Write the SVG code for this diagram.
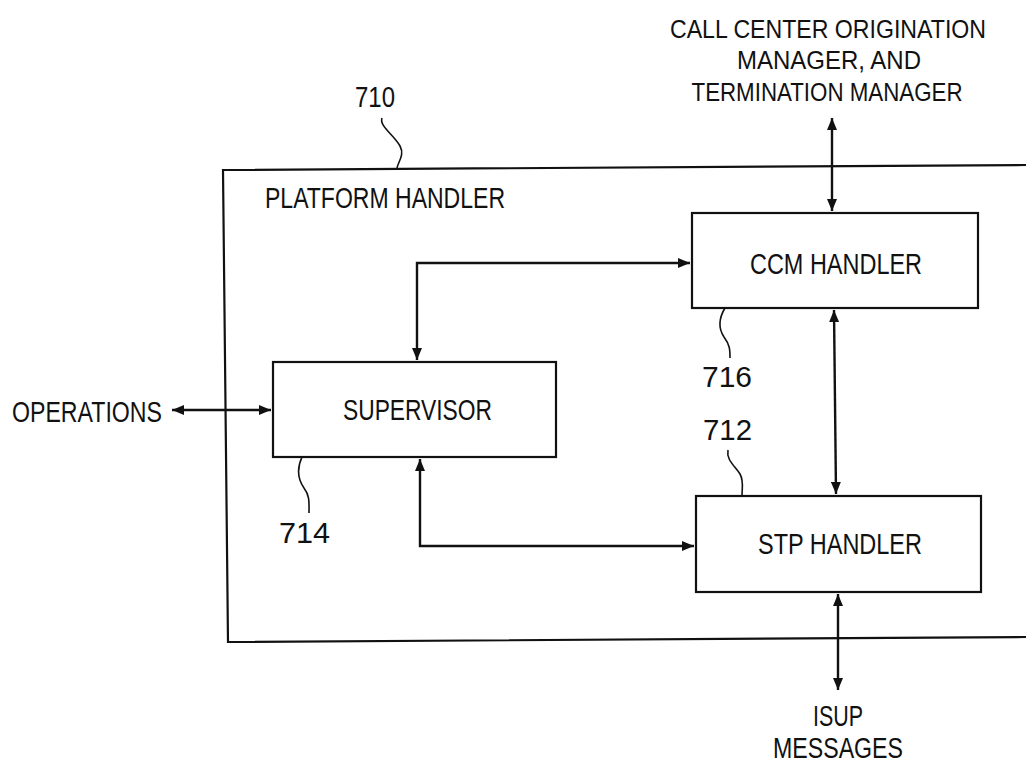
<svg xmlns="http://www.w3.org/2000/svg" width="1026" height="764" viewBox="0 0 1026 764">
<style>
text{font-family:"Liberation Sans",Arial,sans-serif;font-size:29px;fill:#111}
.box{fill:none;stroke:#111;stroke-width:2.2}
.conn{fill:none;stroke:#111;stroke-width:2.4}
.lead{fill:none;stroke:#111;stroke-width:1.6}
.big{font-size:26px;text-anchor:middle}
</style>
<defs>
<marker id="ah" viewBox="0 0 12 10" refX="12" refY="5" markerWidth="12" markerHeight="10" markerUnits="userSpaceOnUse" orient="auto-start-reverse">
<path d="M0,0 L12,5 L0,10 z" fill="#111"/>
</marker>
</defs>
<rect width="1026" height="764" fill="#fff"/>

<g id="platform">
<path class="box" d="M1026,165 L223,170 L228,642 L1026,637"/>
<text x="265" y="208" textLength="240" lengthAdjust="spacingAndGlyphs">PLATFORM HANDLER</text>
</g>

<g id="label710">
<text x="355" y="107" textLength="40" lengthAdjust="spacingAndGlyphs">710</text>
<path class="lead" d="M382,118 C379,126 394,135 400,146 C405,155 398,162 397,168"/>
</g>

<g id="ccm">
<rect class="box" x="692" y="213" width="286" height="95"/>
<text x="750" y="274" textLength="172" lengthAdjust="spacingAndGlyphs">CCM HANDLER</text>
</g>

<g id="label716">
<path class="lead" d="M725,308 C719,318 718,328 724,337 C730,345 730,350 730,358"/>
<text x="702" y="387" textLength="50" lengthAdjust="spacingAndGlyphs">716</text>
</g>

<g id="supervisor">
<rect class="box" x="273" y="362" width="283" height="95"/>
<text x="343" y="420" textLength="149" lengthAdjust="spacingAndGlyphs">SUPERVISOR</text>
</g>

<g id="label714">
<path class="lead" d="M302,457 C297,468 297,478 304,488 C310,496 309,503 309,513"/>
<text x="279" y="543" textLength="51" lengthAdjust="spacingAndGlyphs">714</text>
</g>

<g id="stp">
<rect class="box" x="696" y="496" width="285" height="96"/>
<text x="758" y="554" textLength="164" lengthAdjust="spacingAndGlyphs">STP HANDLER</text>
</g>

<g id="label712">
<text x="703" y="440" textLength="49" lengthAdjust="spacingAndGlyphs">712</text>
<path class="lead" d="M728,450 C726,460 735,466 740,474 C744,481 742,488 742,496"/>
</g>

<g id="callcenter">
<text class="big" x="828" y="38" textLength="316" lengthAdjust="spacingAndGlyphs">CALL CENTER ORIGINATION</text>
<text class="big" x="829" y="69" textLength="184" lengthAdjust="spacingAndGlyphs">MANAGER, AND</text>
<text class="big" x="827" y="101" textLength="271" lengthAdjust="spacingAndGlyphs">TERMINATION MANAGER</text>
</g>

<g id="operations">
<text x="12" y="422" textLength="150" lengthAdjust="spacingAndGlyphs">OPERATIONS</text>
</g>

<g id="isup">
<text x="813" y="726" textLength="50" lengthAdjust="spacingAndGlyphs">ISUP</text>
<text x="773" y="758" textLength="130" lengthAdjust="spacingAndGlyphs">MESSAGES</text>
</g>

<g id="connectors">
<path class="conn" d="M832,118 L832,211" marker-start="url(#ah)" marker-end="url(#ah)"/>
<path class="conn" d="M834,310 L836,494" marker-start="url(#ah)" marker-end="url(#ah)"/>
<path class="conn" d="M838,594 L838,690" marker-start="url(#ah)" marker-end="url(#ah)"/>
<path class="conn" d="M690,263 L417,263 L417,360" marker-start="url(#ah)" marker-end="url(#ah)"/>
<path class="conn" d="M420,459 L420,546 L694,546" marker-start="url(#ah)" marker-end="url(#ah)"/>
<path class="conn" d="M172,410 L271,410" marker-start="url(#ah)" marker-end="url(#ah)"/>
</g>
</svg>
